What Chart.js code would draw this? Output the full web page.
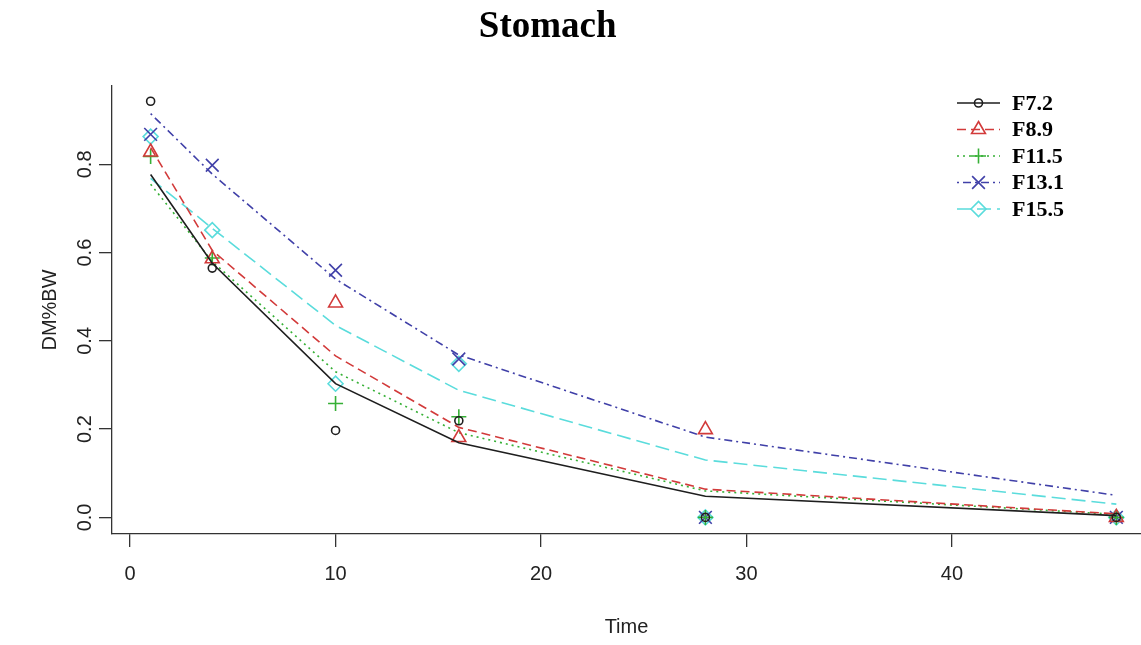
<!DOCTYPE html>
<html lang="en">
<head>
    <meta charset="UTF-8">
    <title>Stomach</title>
    <script src="https://cdn.jsdelivr.net/npm/chart.js"></script>
    <style>
        body { margin: 0; background: #fff; }
    </style>
</head>
<body>
    <canvas id="stomach" width="1141" height="645"></canvas>

<script>
// sampling times (h)
const times = [1, 4, 10, 16, 28, 48];
const seriesNames = ['F7.2', 'F8.9', 'F11.5', 'F13.1', 'F15.5'];

// observed DM%BW (points)
const obsF72  = [0.943, 0.565, 0.197, 0.219, 0, 0];
const obsF89  = [0.828, 0.586, 0.486, 0.181, 0.199, 0];
const obsF115 = [0.818, 0.588, 0.258, 0.228, 0, 0];
const obsF131 = [0.868, 0.798, 0.560, 0.359, 0, 0];
const obsF155 = [0.863, 0.651, 0.303, 0.348, 0, 0];

// fitted curves (lines)
const fitF72  = [0.777, 0.576, 0.303, 0.169, 0.048, 0.004];
const fitF89  = [0.838, 0.605, 0.366, 0.204, 0.064, 0.008];
const fitF115 = [0.755, 0.580, 0.330, 0.192, 0.060, 0.007];
const fitF131 = [0.915, 0.778, 0.540, 0.368, 0.182, 0.050];
const fitF155 = [0.768, 0.655, 0.435, 0.288, 0.130, 0.030];

const xTicks = [0, 10, 20, 30, 40];
const yTicks = [0, 0.2, 0.4, 0.6, 0.8];

const chartTitle = 'Stomach';
const xTitle = 'Time';
const yTitle = 'DM%BW';

// styles (R: lty 1..5, pch 1..5)
const seriesColors = ['#1e1e1e', '#d23a3a', '#36b036', '#4040a8', '#5adcdc'];
const seriesDash = [[], [9, 5], [2, 4], [2, 4, 8, 4], [14, 6]];
const seriesMarkers = ['circle', 'triangle', 'cross', 'crossRot', 'rectRot'];
const markerRadius = [4, 8, 7.5, 9, 7.5];

const obsAll = [obsF72, obsF89, obsF115, obsF131, obsF155];
const fitAll = [fitF72, fitF89, fitF115, fitF131, fitF155];

const axisFont = { family: "'Liberation Sans', Arial, sans-serif", size: 20 };

let datasets = [];
for (let i = 0; i < seriesNames.length; i++) {
    datasets.push({
        label: seriesNames[i],
        data: times.map((t, k) => ({ x: t, y: fitAll[i][k] })),
        borderColor: seriesColors[i],
        borderDash: seriesDash[i],
        borderWidth: 1.6,
        pointRadius: 0,
        fill: false,
        tension: 0
    });
    datasets.push({
        label: seriesNames[i] + ' obs',
        data: times.map((t, k) => ({ x: t, y: obsAll[i][k] })),
        showLine: false,
        pointStyle: seriesMarkers[i],
        pointRadius: markerRadius[i],
        pointBorderColor: seriesColors[i],
        pointBackgroundColor: 'rgba(0,0,0,0)',
        pointBorderWidth: 1.6
    });
}

// title like R main=, slightly left of centre
const rTitle = {
    id: 'rTitle',
    afterDraw(chart) {
        const ctx = chart.ctx;
        ctx.save();
        ctx.font = "bold 37px 'Liberation Serif', 'Times New Roman', serif";
        ctx.fillStyle = '#000';
        ctx.textAlign = 'center';
        ctx.textBaseline = 'middle';
        ctx.fillText(chartTitle, chart.width * 0.48, 27);
        ctx.restore();
    }
};

// R style legend: line segment with the marker in the middle
const rLegend = {
    id: 'rLegend',
    afterDraw(chart) {
        const ctx = chart.ctx;
        const area = chart.chartArea;
        const x0 = area.right - 184;
        const y0 = area.top + 17;
        seriesNames.forEach((name, i) => {
            const y = y0 + i * 26.5;
            ctx.save();
            ctx.strokeStyle = seriesColors[i];
            ctx.lineWidth = 1.6;
            ctx.setLineDash(seriesDash[i]);
            ctx.beginPath();
            ctx.moveTo(x0, y);
            ctx.lineTo(x0 + 43, y);
            ctx.stroke();
            ctx.setLineDash([]);
            ctx.fillStyle = 'rgba(0,0,0,0)';
            Chart.helpers.drawPoint(ctx, {
                pointStyle: seriesMarkers[i], radius: markerRadius[i], borderWidth: 1.6, rotation: 0
            }, x0 + 21.5, y);
            ctx.fillStyle = '#000';
            ctx.font = "bold 22px 'Liberation Serif', 'Times New Roman', serif";
            ctx.textAlign = 'left';
            ctx.textBaseline = 'middle';
            ctx.fillText(name, x0 + 55, y + 1);
            ctx.restore();
        });
    }
};

const config = {
    type: 'line',
    data: { datasets: datasets },
    plugins: [rTitle, rLegend],
    options: {
        responsive: false,
        animation: false,
        devicePixelRatio: 1,
        layout: { autoPadding: false, padding: { top: 86, left: 30, right: 0, bottom: 0 } },
        plugins: {
            legend: { display: false },
            title: { display: false },
            tooltip: { enabled: false }
        },
        scales: {
            x: {
                type: 'linear',
                min: -0.88,
                max: 49.2,
                afterBuildTicks: (scale) => { scale.ticks = xTicks.map(v => ({ value: v })); },
                afterFit: (scale) => { scale.paddingRight = 0; },
                ticks: { color: '#222', font: axisFont, padding: 15, maxRotation: 0 },
                grid: { drawOnChartArea: false, drawTicks: true, tickLength: 13, color: '#333', lineWidth: 1.3 },
                border: { display: true, color: '#333', width: 1.3 },
                title: { display: true, text: xTitle, color: '#222', font: axisFont, padding: { top: 14, bottom: 6 } }
            },
            y: {
                type: 'linear',
                min: -0.0376,
                max: 0.9776,
                afterBuildTicks: (scale) => { scale.ticks = yTicks.map(v => ({ value: v })); },
                ticks: {
                    color: '#222', font: axisFont, padding: 0,
                    minRotation: 90, maxRotation: 90, crossAlign: 'center',
                    callback: (v) => v.toFixed(1)
                },
                grid: { drawOnChartArea: false, drawTicks: true, tickLength: 13, color: '#333', lineWidth: 1.3 },
                border: { display: true, color: '#333', width: 1.3 },
                title: { display: true, text: yTitle, color: '#222', font: axisFont, padding: { top: 8, bottom: 13 } }
            }
        }
    }
};

const grafico = new Chart(document.getElementById('stomach'), config);
</script>
</body>
</html>
